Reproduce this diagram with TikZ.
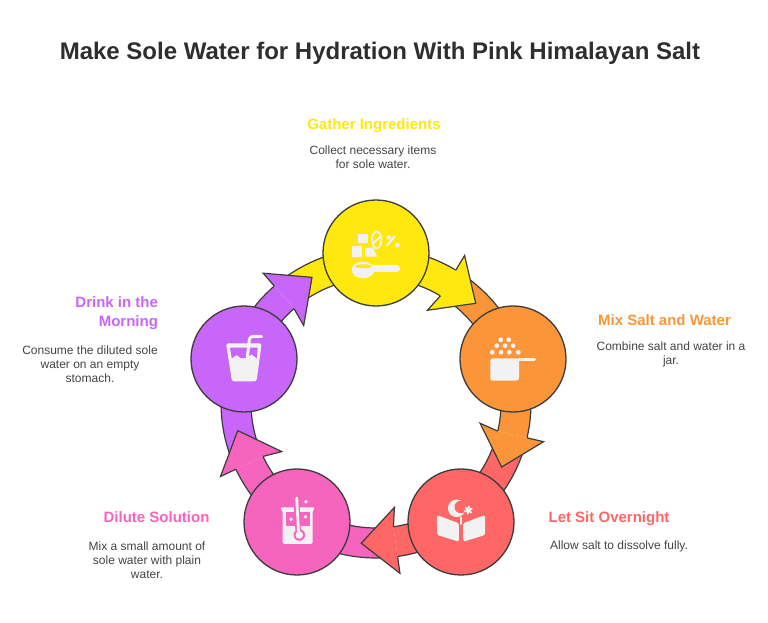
\documentclass[tikz,border=0pt]{standalone}
\usepackage{fontspec}
\setmainfont{Liberation Sans}
\usetikzlibrary{positioning,calc}
\definecolor{gatherYellow}{HTML}{FFE80E}
\definecolor{mixOrange}{HTML}{FA9639}
\definecolor{sitRed}{HTML}{FF6666}
\definecolor{dilutePink}{HTML}{F565BD}
\definecolor{drinkPurple}{HTML}{C866FA}
\definecolor{edgeGray}{HTML}{3C3C3C}
\definecolor{bodyGray}{HTML}{444444}
\definecolor{iconWhite}{HTML}{F2F2F2}
\tikzset{
    stage/.style={circle, draw=edgeGray, line width=1.3pt, minimum size=106pt, inner sep=0pt},
    edgeline/.style={draw=edgeGray, line width=1.2pt, line join=miter},
    heading/.style={font=\fontsize{15}{19}\selectfont\bfseries, align=center},
    body/.style={font=\fontsize{12}{14}\selectfont, text=bodyGray, align=center},
    iconline/.style={draw=iconWhite, line cap=round, line join=round},
}
\begin{document}
\begin{tikzpicture}[x=1pt, y=1pt]
    \useasboundingbox (0,0) rectangle (768,623);
    \node[font=\fontsize{24}{28}\selectfont\bfseries, text=black!82] (title) at (380,570)
        {Make Sole Water for Hydration With Pink Himalayan Salt};

    % ring of arrows, tails first and heads over them
    \begin{scope}[shift={(376,220)}]
        \foreach \c/\d/\col in {90/0/gatherYellow,18/0/mixOrange,-54/3/sitRed,-126/2.3/dilutePink,162/0/drinkPurple} {
            \fill[\col] (\c+38:155) arc[start angle=\c+38, end angle=\c+\d-31, radius=155pt]
                -- (\c+\d-31:125) arc[start angle=\c+\d-31, end angle=\c+38, radius=125pt] -- cycle;
            \draw[edgeline] (\c+38:155) arc[start angle=\c+38, end angle=\c+\d-31, radius=155pt];
            \draw[edgeline] (\c+38:125) arc[start angle=\c+38, end angle=\c+\d-31, radius=125pt];
        }
        \foreach \c/\d/\col in {90/0/gatherYellow,18/0/mixOrange,-54/3/sitRed,-126/2.3/dilutePink,162/0/drinkPurple}
            \filldraw[edgeline, fill=\col] (\c+\d-31:155) -- (\c+\d-31:172) -- (\c+\d-45:141)
                -- (\c+\d-29:106) -- (\c+\d-31:125);
    \end{scope}

    \node[stage, fill=gatherYellow] (gather) at (376,370) {};
    \node[stage, fill=mixOrange] (mix) at (513,264) {};
    \node[stage, fill=sitRed] (sit) at (461,101) {};
    \node[stage, fill=dilutePink] (dilute) at (297,101) {};
    \node[stage, fill=drinkPurple] (drink) at (244,264) {};

    % spoon icon
    \begin{scope}[shift={(gather.center)}]
        \fill[iconWhite] (-17.7,19) rectangle (-8.3,9.7);
        \fill[iconWhite] (-24.3,7.3) rectangle (-13.7,-3.7);
        \fill[iconWhite] (-10.6,5.3) -- (-3,5.3) -- (1.3,-3.7) -- (-11,-3.7) -- cycle;
        \draw[iconline, line width=1.7pt] (0.7,13) ellipse (4.6pt and 8.4pt);
        \draw[iconline, line width=1.7pt] (-3,9.5) -- (4.5,16.5);
        \draw[iconline, line width=2pt] (11,7.5) -- (18.5,16.5);
        \fill[iconWhite] (12.7,15.7) circle (2.3pt) (21.3,8) circle (2.3pt);
        \fill[iconWhite] (-13,-17) ellipse (11.3pt and 8.3pt);
        \fill[gatherYellow] (-12.7,-13.3) ellipse (8.3pt and 2pt);
        \draw[iconline, line width=7pt] (-2,-15.7) -- (20.5,-15.7);
    \end{scope}

    % measuring cup icon
    \begin{scope}[shift={(mix.center)}]
        \foreach \x/\y in {-12.3/19.3,-4.3/19.3,-16.3/13.3,-8/13.3,0/13.3,-20.7/6.7,-12/6.7,-3.7/6.7,5.3/6.7}
            \fill[iconWhite] (\x,\y) circle (2.4pt);
        \fill[iconWhite, rounded corners=2.5pt] (-22.7,0.7) -- (-22.7,-21.7) -- (6,-21.7) -- (6,0.7) -- cycle;
        \draw[iconline, line width=3pt] (6,-0.9) -- (21.5,-0.9);
    \end{scope}

    % open book icon
    \begin{scope}[shift={(sit.center)}]
        \fill[iconWhite, rounded corners=1.5pt] (-24.3,7) -- (-2.2,-1.3) -- (-2,-19.7) -- (-23.7,-13) -- cycle;
        \fill[iconWhite, rounded corners=1.5pt] (2,-1.3) -- (24,7) -- (24,-13) -- (2.3,-19.7) -- cycle;
        \fill[iconWhite] (-4.3,13.7) circle (8.8pt);
        \fill[sitRed] (-0.3,15) circle (6.2pt);
        \draw[iconline, line width=1.7pt] (0,4.5) -- (0,-2);
        \foreach \a in {20,80,140}
            \draw[iconline, line width=2pt] (7.3,12) ++(\a:3.6) -- ++(\a+180:7.2);
    \end{scope}

    % beaker icon
    \begin{scope}[shift={(dilute.center)}]
        \fill[iconWhite, rounded corners=1.5pt] (-17,14.7) -- (18,14.7) -- (15.7,11) -- (15.7,-22) -- (-14.5,-22)
            -- (-14.5,11) -- cycle;
        \fill[dilutePink] (-11.3,10.3) rectangle (13,-4.5);
        \draw[dilutePink, line width=6pt] (-0.3,16) -- (0,10);
        \draw[dilutePink, line width=5.5pt, line cap=round] (0,4) -- (1.5,-10);
        \fill[dilutePink] (2.3,-13) circle (5.8pt);
        \draw[iconline, line width=2.8pt] (-0.3,24) -- (1.5,-10);
        \fill[iconWhite] (2.3,-13) circle (3.8pt);
        \fill[iconWhite] (9,20.3) circle (1.9pt) (-6,2.7) circle (1.9pt) (8.5,5.3) circle (1.9pt);
    \end{scope}

    % glass icon
    \begin{scope}[shift={(drink.center)}]
        \fill[iconWhite, rounded corners=2.5pt] (-18,15.7) -- (17.7,15.7) -- (12.5,-22.5) -- (-12,-22.5) -- cycle;
        \fill[drinkPurple] (-14,11.3) -- (13.7,11.3) -- (12.7,0.7) -- (7.7,4.7) -- (2.7,1.3) -- (-3,0.7) -- (-7.3,4)
            -- (-12.3,0.7) -- cycle;
        \draw[iconline, line width=3pt, rounded corners=3pt] (3.3,1.3) -- (5.7,22.5) -- (17.7,22.5);
    \end{scope}

    \node[heading, text=gatherYellow] (gatherhead) at (374,497.5) {Gather Ingredients};
    \node[body] (gathertext) at (373,466) {Collect necessary items\\for sole water.};
    \node[heading, text=mixOrange] (mixhead) at (664.5,303) {Mix Salt and Water};
    \node[body] (mixtext) at (671,269) {Combine salt and water in a\\jar.};
    \node[heading, text=sitRed] (sithead) at (609,104.5) {Let Sit Overnight};
    \node[body] (sittext) at (619,77) {Allow salt to dissolve fully.};
    \node[heading, text=dilutePink] (dilutehead) at (156.5,106) {Dilute Solution};
    \node[body] (dilutetext) at (147,63) {Mix a small amount of\\sole water with plain\\water.};
    \node[heading, text=drinkPurple, align=right, anchor=east] (drinkhead) at (161.5,310) {Drink in the\\Morning};
    \node[body] (drinktext) at (90,259) {Consume the diluted sole\\water on an empty\\stomach.};
\end{tikzpicture}
\end{document}
